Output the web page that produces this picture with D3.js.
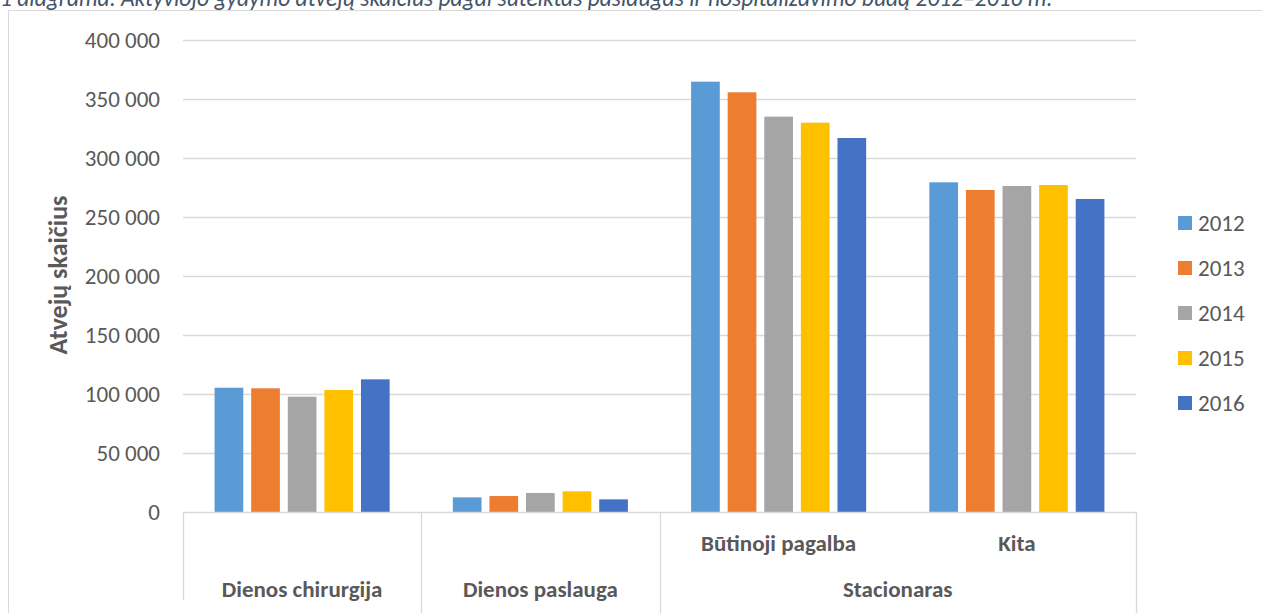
<!DOCTYPE html>
<html>
<head>
<meta charset="utf-8">
<script src="https://cdn.jsdelivr.net/npm/d3@7"></script>
<style>
  body { margin: 0; background: #fff; }
  svg { display: block; font-family: Carlito, Calibri, Lato, sans-serif; }
</style>
</head>
<body>
<div id="chart"></div>
<script>
// chart data
var categories = ['Dienos chirurgija', 'Dienos paslauga', 'Būtinoji pagalba', 'Kita'];
var categoryParents = [null, null, 'Stacionaras', 'Stacionaras'];
var years = ['2012', '2013', '2014', '2015', '2016'];
var v2012 = [105200, 12400, 364300, 279100];
var v2013 = [104700, 13500, 355300, 272600];
var v2014 = [97600, 16100, 334700, 276000];
var v2015 = [103300, 17500, 329600, 276800];
var v2016 = [112300, 10700, 316600, 265000];
var yTicks = [0, 50000, 100000, 150000, 200000, 250000, 300000, 350000, 400000];
var colorsList = ['#5B9BD5', '#ED7D31', '#A5A5A5', '#FFC000', '#4472C4'];
var titleText = '1 diagrama. Aktyviojo gydymo atvejų skaičius pagal suteiktas paslaugas ir hospitalizavimo būdą 2012–2016 m.';
var yTitle = 'Atvejų skaičius';

var series = [v2012, v2013, v2014, v2015, v2016];

var W = 1262, H = 613;
var plotLeft = 183, plotRight = 1136, plotTop = 39.5, plotBottom = 512;

var svg = d3.select('#chart').append('svg')
    .attr('width', W)
    .attr('height', H);

// frame (top and left edges visible)
svg.append('line').attr('x1', 8.5).attr('x2', W).attr('y1', 10.5).attr('y2', 10.5)
    .attr('stroke', '#d9d9d9');
svg.append('line').attr('x1', 8.5).attr('x2', 8.5).attr('y1', 10.5).attr('y2', H)
    .attr('stroke', '#d9d9d9');

// title, clipped at the top
svg.append('text')
    .attr('x', 0)
    .attr('y', 6)
    .attr('font-size', 23.5)
    .attr('font-style', 'italic')
    .attr('fill', '#44546A')
    .text(titleText);

var x0 = d3.scaleBand().domain(categories).range([plotLeft, plotRight]).padding(0);
var x1 = d3.scaleBand().domain(years).range([0, x0.bandwidth()])
    .paddingInner(0.216).paddingOuter(0.863);
var y = d3.scaleLinear().domain([0, 400000]).range([plotBottom, plotTop]);
var color = d3.scaleOrdinal().domain(years).range(colorsList);

var fmt = d3.formatLocale({decimal: ',', thousands: '\u00a0', grouping: [3], currency: ['', '']}).format(',d');

// gridlines
svg.append('g')
  .selectAll('line')
  .data(yTicks.filter(function(d) { return d > 0; }))
  .enter().append('line')
    .attr('x1', plotLeft).attr('x2', plotRight)
    .attr('y1', function(d) { return Math.round(y(d)) + 0.5; })
    .attr('y2', function(d) { return Math.round(y(d)) + 0.5; })
    .attr('stroke', '#d9d9d9')
    .attr('stroke-width', 1.3);

// y tick labels
svg.append('g')
  .selectAll('text')
  .data(yTicks)
  .enter().append('text')
    .attr('x', 160)
    .attr('y', function(d) { return y(d); })
    .attr('dy', '0.35em')
    .attr('text-anchor', 'end')
    .attr('font-size', 23)
    .attr('fill', '#595959')
    .text(function(d) { return fmt(d); });

// y title
svg.append('text')
    .attr('transform', 'translate(67,' + 275 + ') rotate(-90)')
    .attr('text-anchor', 'middle')
    .attr('font-size', 26)
    .attr('font-weight', 'bold')
    .attr('fill', '#595959')
    .text(yTitle);

// bars
var group = svg.selectAll('.cat')
    .data(categories)
    .enter().append('g')
    .attr('class', 'cat')
    .attr('transform', function(d) { return 'translate(' + x0(d) + ',0)'; });

group.selectAll('rect')
    .data(function(d, i) { return years.map(function(yr, j) { return {key: yr, value: series[j][i]}; }); })
    .enter().append('rect')
    .attr('x', function(d) { return x1(d.key); })
    .attr('y', function(d) { return y(d.value); })
    .attr('width', x1.bandwidth())
    .attr('height', function(d) { return plotBottom - y(d.value); })
    .attr('fill', function(d) { return color(d.key); });

// x axis line
svg.append('line')
    .attr('x1', plotLeft).attr('x2', plotRight)
    .attr('y1', plotBottom + 0.5).attr('y2', plotBottom + 0.5)
    .attr('stroke', '#d9d9d9').attr('stroke-width', 1.3);

// category dividers: at the edges and where the parent changes
var dividers = [];
categories.forEach(function(c, i) {
  if (i === 0 || categoryParents[i] === null || categoryParents[i] !== categoryParents[i - 1]) {
    dividers.push(x0(c));
  }
});
dividers.push(plotRight);

svg.append('g')
  .selectAll('line')
  .data(dividers)
  .enter().append('line')
    .attr('x1', function(d) { return Math.round(d) + 0.5; })
    .attr('x2', function(d) { return Math.round(d) + 0.5; })
    .attr('y1', plotBottom)
    .attr('y2', function(d, i) { return i === 0 ? 600 : H; })
    .attr('stroke', '#d9d9d9')
    .attr('stroke-width', 1.3);

// category labels
categories.forEach(function(c, i) {
  var cx = x0(c) + x0.bandwidth() / 2;
  svg.append('text')
      .attr('x', cx)
      .attr('y', categoryParents[i] === null ? 589 : 543)
      .attr('dy', '0.35em')
      .attr('text-anchor', 'middle')
      .attr('font-size', 23)
      .attr('font-weight', 'bold')
      .attr('fill', '#595959')
      .text(c);
});

// parent labels
var parents = Array.from(new Set(categoryParents.filter(function(p) { return p !== null; })));
parents.forEach(function(p) {
  var members = categories.filter(function(c, i) { return categoryParents[i] === p; });
  var xa = x0(members[0]);
  var xb = x0(members[members.length - 1]) + x0.bandwidth();
  svg.append('text')
      .attr('x', (xa + xb) / 2)
      .attr('y', 589)
      .attr('dy', '0.35em')
      .attr('text-anchor', 'middle')
      .attr('font-size', 23)
      .attr('font-weight', 'bold')
      .attr('fill', '#595959')
      .text(p);
});

// legend
var legend = svg.append('g')
  .selectAll('g')
  .data(years)
  .enter().append('g')
  .attr('transform', function(d, i) { return 'translate(1178,' + (223 + i * 45) + ')'; });

legend.append('rect')
    .attr('x', 0)
    .attr('y', -7)
    .attr('width', 14)
    .attr('height', 14)
    .attr('fill', color);

legend.append('text')
    .attr('x', 20)
    .attr('y', 0)
    .attr('dy', '0.35em')
    .attr('font-size', 23)
    .attr('fill', '#595959')
    .text(function(d) { return d; });
</script>
</body>
</html>
